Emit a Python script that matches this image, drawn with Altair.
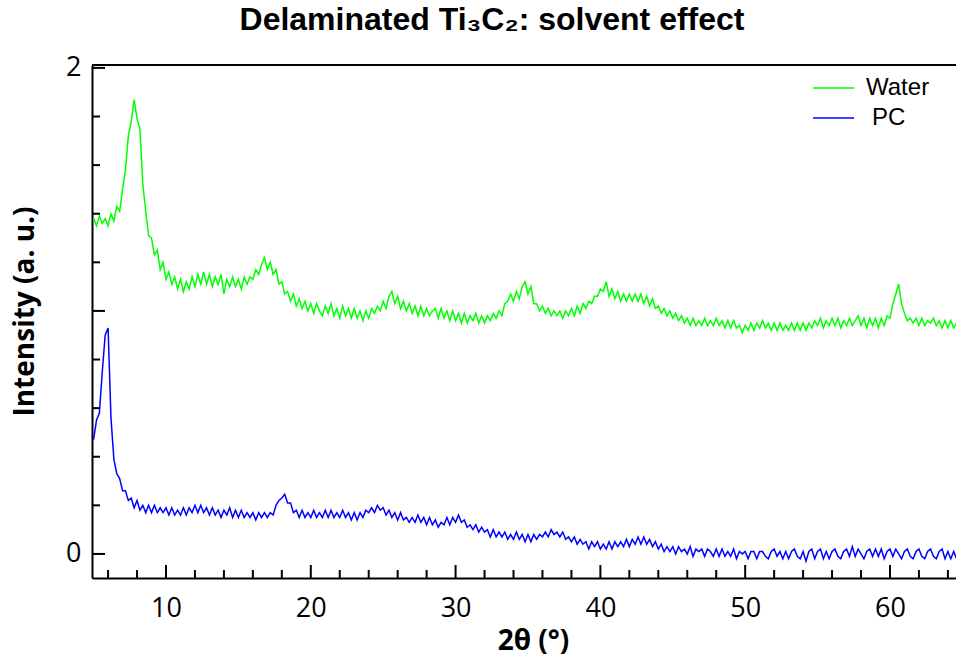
import altair as alt
import pandas as pd

# ---- data ----
X_START = 5.0
X_STEP = 0.2

water = [
    1.38, 1.35, 1.39, 1.36, 1.38,
    1.35, 1.40, 1.37, 1.43, 1.41,
    1.50, 1.58, 1.72, 1.78, 1.87,
    1.79, 1.75, 1.52, 1.41, 1.31,
    1.30, 1.23, 1.25, 1.17, 1.20,
    1.13, 1.16, 1.11, 1.14, 1.09,
    1.13, 1.08, 1.12, 1.09, 1.14,
    1.10, 1.15, 1.11, 1.16, 1.11,
    1.15, 1.10, 1.14, 1.11, 1.15,
    1.07, 1.13, 1.10, 1.14, 1.10,
    1.13, 1.09, 1.14, 1.11, 1.14,
    1.13, 1.17, 1.15, 1.19, 1.22,
    1.17, 1.20, 1.15, 1.17, 1.11,
    1.12, 1.07, 1.08, 1.04, 1.07,
    1.02, 1.05, 1.01, 1.04, 1.00,
    1.03, 0.99, 1.03, 1.00, 0.98,
    1.02, 0.99, 1.03, 0.98, 1.01,
    0.97, 1.02, 0.98, 1.01, 0.97,
    1.01, 0.97, 1.00, 0.96, 1.00,
    0.97, 1.01, 0.99, 1.02, 1.00,
    1.04, 1.01, 1.06, 1.08, 1.03,
    1.06, 1.01, 1.04, 1.00, 1.03,
    0.99, 1.02, 0.98, 1.02, 0.98,
    1.01, 0.98, 1.00, 1.01, 0.97,
    1.01, 0.97, 1.00, 0.96, 1.00,
    0.96, 0.99, 0.95, 0.99, 0.95,
    0.98, 0.96, 0.99, 0.95, 0.98,
    0.95, 0.98, 0.96, 0.99, 0.97,
    1.00, 0.98, 1.03, 1.04, 1.07,
    1.04, 1.08, 1.05, 1.10, 1.12,
    1.07, 1.10, 1.03, 1.03, 1.00,
    1.02, 0.99, 1.01, 0.98, 1.00,
    0.98, 1.00, 0.97, 1.00, 0.98,
    1.01, 0.98, 1.02, 0.99, 1.03,
    1.01, 1.04, 1.03, 1.06, 1.06,
    1.09, 1.08, 1.12, 1.06, 1.09,
    1.05, 1.08, 1.04, 1.07, 1.04,
    1.07, 1.04, 1.07, 1.04, 1.07,
    1.03, 1.06, 1.02, 1.05, 1.01,
    1.02, 0.99, 1.01, 0.98, 1.00,
    0.97, 0.99, 0.96, 0.98, 0.95,
    0.97, 0.94, 0.97, 0.94, 0.96,
    0.94, 0.97, 0.94, 0.96, 0.94,
    0.97, 0.94, 0.96, 0.93, 0.96,
    0.93, 0.96, 0.93, 0.94, 0.91,
    0.94, 0.92, 0.95, 0.92, 0.95,
    0.93, 0.96, 0.93, 0.95, 0.92,
    0.95, 0.92, 0.95, 0.92, 0.94,
    0.92, 0.95, 0.92, 0.95, 0.92,
    0.95, 0.92, 0.95, 0.93, 0.96,
    0.94, 0.97, 0.93, 0.96, 0.94,
    0.97, 0.94, 0.97, 0.93, 0.96,
    0.94, 0.97, 0.94, 0.96, 0.98,
    0.94, 0.97, 0.93, 0.97, 0.94,
    0.97, 0.93, 0.97, 0.94, 0.98,
    0.97, 1.03, 1.07, 1.11, 1.03,
    0.99, 0.96, 0.97, 0.95, 0.97,
    0.94, 0.97, 0.94, 0.96, 0.95,
    0.97, 0.94, 0.96, 0.93, 0.96,
    0.93, 0.96, 0.93, 0.95,
]

pc = [
    0.47, 0.55, 0.58, 0.75, 0.90,
    0.93, 0.56, 0.39, 0.33, 0.31,
    0.26, 0.26, 0.22, 0.23, 0.19,
    0.22, 0.18, 0.20, 0.17, 0.20,
    0.17, 0.20, 0.17, 0.19, 0.17,
    0.19, 0.16, 0.19, 0.16, 0.18,
    0.16, 0.19, 0.16, 0.19, 0.17,
    0.20, 0.17, 0.20, 0.17, 0.19,
    0.16, 0.19, 0.16, 0.18, 0.15,
    0.18, 0.16, 0.19, 0.15, 0.18,
    0.15, 0.18, 0.15, 0.17, 0.15,
    0.17, 0.14, 0.17, 0.15, 0.17,
    0.15, 0.17, 0.16, 0.20, 0.22,
    0.23, 0.245, 0.21, 0.21, 0.17,
    0.18, 0.15, 0.18, 0.15, 0.17,
    0.15, 0.18, 0.15, 0.17, 0.15,
    0.18, 0.15, 0.18, 0.15, 0.17,
    0.15, 0.18, 0.15, 0.17, 0.14,
    0.17, 0.14, 0.17, 0.15, 0.18,
    0.17, 0.19, 0.17, 0.20, 0.18,
    0.19, 0.16, 0.18, 0.15, 0.17,
    0.14, 0.17, 0.14, 0.15, 0.13,
    0.15, 0.13, 0.16, 0.13, 0.15,
    0.12, 0.15, 0.12, 0.14, 0.11,
    0.13, 0.12, 0.15, 0.12, 0.15,
    0.13, 0.16, 0.13, 0.14, 0.11,
    0.12, 0.10, 0.12, 0.09, 0.11,
    0.09, 0.10, 0.07, 0.10, 0.07,
    0.09, 0.07, 0.09, 0.06, 0.08,
    0.06, 0.09, 0.06, 0.08, 0.05,
    0.08, 0.05, 0.08, 0.06, 0.08,
    0.07, 0.09, 0.07, 0.10, 0.08,
    0.09, 0.07, 0.09, 0.06, 0.07,
    0.05, 0.07, 0.04, 0.06, 0.04,
    0.05, 0.02, 0.05, 0.03, 0.05,
    0.02, 0.04, 0.02, 0.05, 0.02,
    0.05, 0.03, 0.05, 0.03, 0.06,
    0.03, 0.06, 0.04, 0.07, 0.04,
    0.07, 0.04, 0.06, 0.03, 0.05,
    0.02, 0.04, 0.01, 0.03, 0.01,
    0.03, 0.00, 0.03, 0.01, 0.02,
    0.00, 0.03, -0.01, 0.02, 0.01,
    0.02, -0.01, 0.02, 0.01, -0.01,
    0.02, -0.01, 0.02, -0.01, 0.01,
    -0.01, 0.02, -0.02, 0.01, 0.00,
    0.01, -0.02, 0.01, 0.01, -0.02,
    0.01, 0.01, -0.01, -0.02, 0.01,
    0.02, -0.01, 0.01, -0.02, 0.01,
    -0.02, 0.01, 0.02, -0.01, -0.02,
    0.01, -0.03, 0.01, 0.02, -0.02,
    0.01, 0.02, -0.02, 0.01, -0.02,
    0.01, 0.02, -0.01, -0.02, 0.01,
    0.02, -0.01, 0.03, -0.01, 0.02,
    0.00, -0.02, 0.01, 0.02, -0.01,
    0.02, -0.01, 0.02, -0.02, 0.01,
    0.02, -0.01, 0.02, 0.00, -0.02,
    0.01, 0.02, -0.01, -0.02, 0.01,
    0.02, -0.01, -0.02, 0.01, 0.02,
    -0.01, -0.02, 0.01, 0.02, -0.02,
    0.01, -0.02, 0.01, -0.02,
]

series_names = ["Water", "PC"]
series_colors = ["#00ff00", "#0000ff"]

x_major = [10, 20, 30, 40, 50, 60]
x_minor = [6, 8, 12, 14, 16, 18, 22, 24, 26, 28, 32, 34, 36, 38,
           42, 44, 46, 48, 52, 54, 56, 58, 62, 64]
y_major = [0, 1, 2]
y_minor = [0.2, 0.4, 0.6, 0.8, 1.2, 1.4, 1.6, 1.8]

X_DOMAIN = [4.89, 64.56]
Y_DOMAIN = [-0.099, 2.012]

W, H = 864, 513
MAJ, MIN = 13, 8

rows = []
for name, vals in zip(series_names, [water, pc]):
    for i, v in enumerate(vals):
        rows.append({"x": round(X_START + i * X_STEP, 2), "y": v, "series": name})
df = pd.DataFrame(rows)

xs = alt.Scale(domain=X_DOMAIN, nice=False, zero=False)
ys = alt.Scale(domain=Y_DOMAIN, nice=False, zero=False)

lines = alt.Chart(df).mark_line(strokeWidth=1.5, clip=True).encode(
    x=alt.X("x:Q", scale=xs, axis=alt.Axis(
        values=x_major, format="d", ticks=False, grid=False, domainColor="black", domainWidth=2,
        labelFont="Open Sans", labelFontSize=27, labelColor="black", labelPadding=17,
        title="2θ (°)", titleFont="Open Sans", titleFontSize=28, titleFontWeight="bold",
        titleColor="black", titleX=441, titleY=63, titleBaseline="middle", titleAlign="center")),
    y=alt.Y("y:Q", scale=ys, axis=alt.Axis(
        values=y_major, format="d", ticks=False, grid=False, domainColor="black", domainWidth=2,
        labelFont="Open Sans", labelFontSize=27, labelColor="black", labelPadding=11,
        title="Intensity (a. u.)", titleFont="Open Sans", titleFontSize=28,
        titleFontWeight="bold", titleColor="black", titleX=-67, titleY=246,
        titleBaseline="middle", titleAlign="center", titleAngle=270)),
    color=alt.Color("series:N", sort=series_names,
                    scale=alt.Scale(domain=series_names, range=series_colors),
                    legend=alt.Legend(title=None, orient="none", legendX=720, legendY=8,
                                      symbolType="stroke", symbolSize=1681,
                                      symbolStrokeWidth=1.3, labelFont="Liberation Sans",
                                      labelFontSize=24, labelColor="black", labelOffset=11,
                                      labelExpr="datum.label == 'PC' ? '\u200b\u2005PC' : datum.label",
                                      clipHeight=30, rowPadding=0, padding=0)),
    detail="series:N",
)

xmaj = alt.Chart(pd.DataFrame({"t": x_major})).mark_rule(color="black", strokeWidth=2).encode(
    x=alt.X("t:Q", scale=xs), y=alt.value(H), y2=alt.value(H - MAJ))
xmin = alt.Chart(pd.DataFrame({"t": x_minor})).mark_rule(color="black", strokeWidth=2).encode(
    x=alt.X("t:Q", scale=xs), y=alt.value(H), y2=alt.value(H - MIN))
ymaj = alt.Chart(pd.DataFrame({"t": y_major})).mark_rule(color="black", strokeWidth=2).encode(
    y=alt.Y("t:Q", scale=ys), x=alt.value(0), x2=alt.value(MAJ))
ymin = alt.Chart(pd.DataFrame({"t": y_minor})).mark_rule(color="black", strokeWidth=2).encode(
    y=alt.Y("t:Q", scale=ys), x=alt.value(0), x2=alt.value(MIN))
topline = alt.Chart(pd.DataFrame({"t": [0]})).mark_rule(color="black", strokeWidth=2).encode(
    y=alt.value(0), x=alt.value(0), x2=alt.value(W))

chart = alt.layer(lines, xmaj, xmin, ymaj, ymin, topline).properties(
    width=W, height=H,
    autosize=alt.AutoSizeParams(type="none"),
    padding={"left": 92, "top": 65, "right": 0, "bottom": 83},
    title=alt.TitleParams(
        "Delaminated Ti\u2083C\u2082: solvent effect",
        font="Liberation Sans", fontSize=32, fontWeight="bold", color="black",
        anchor="middle", frame="group", offset=-8, baseline="alphabetic", dx=-32),
).configure_view(stroke=None).configure(background="white")

chart.save("out.html", embed_options={"renderer": "svg", "actions": False})
